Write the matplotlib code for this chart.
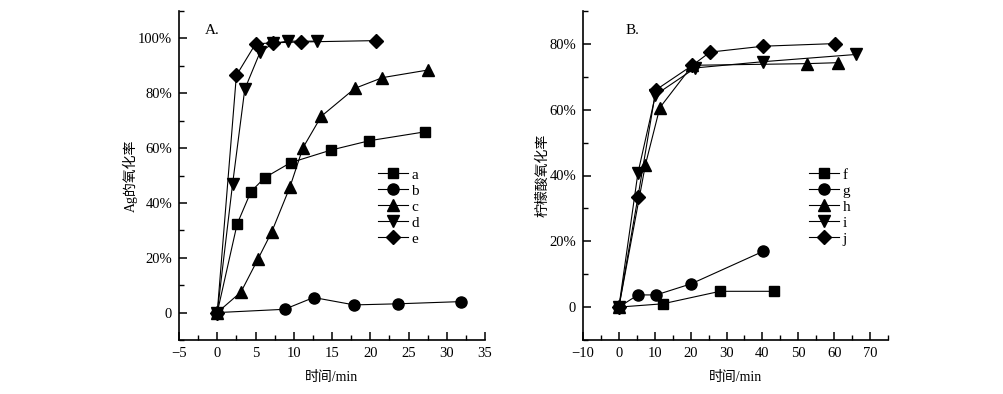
import matplotlib
matplotlib.use("Agg")
import matplotlib.pyplot as plt
from matplotlib.ticker import MultipleLocator, FuncFormatter

plt.rcParams['font.family'] = ['Liberation Serif', 'Noto Sans CJK SC']
plt.rcParams['axes.unicode_minus'] = True

# ---- panel A: Ag oxidation ----
a_x = [0, 2.6, 4.4, 6.2, 9.6, 14.9, 19.9, 27.1]
a_y = [0, 32.3, 44.1, 49.2, 54.7, 59.3, 62.7, 65.9]
b_x = [0, 8.8, 12.6, 17.9, 23.6, 31.8]
b_y = [0, 1.2, 5.5, 2.8, 3.2, 4.0]
c_x = [0, 3.1, 5.3, 7.1, 9.5, 11.2, 13.6, 18.0, 21.6, 27.6]
c_y = [0, 7.5, 19.4, 29.3, 45.8, 60.1, 71.6, 81.8, 85.7, 88.5]
d_x = [0, 2.0, 3.6, 5.6, 7.3, 9.2, 13.0]
d_y = [0, 46.8, 81.5, 95.0, 98.2, 99.0, 99.0]
e_x = [0, 2.5, 5.0, 7.3, 10.9, 20.7]
e_y = [0, 86.5, 98.0, 98.4, 98.7, 99.2]

# ---- panel B: citric acid oxidation ----
f_x = [0, 12.2, 28.2, 43.3]
f_y = [0, 1.0, 4.8, 4.8]
g_x = [0, 5.3, 10.4, 20.2, 40.3]
g_y = [0, 3.7, 3.7, 7.1, 17.0]
h_x = [0, 7.4, 11.4, 20.5, 52.4, 61.2]
h_y = [0, 43.3, 60.6, 73.5, 74.0, 74.3]
i_x = [0, 5.3, 10.2, 21.3, 40.3, 66.2]
i_y = [0, 40.7, 64.5, 72.7, 74.6, 76.8]
j_x = [0, 5.3, 10.3, 20.5, 25.4, 40.2, 60.3]
j_y = [0, 33.4, 66.0, 73.5, 77.5, 79.3, 80.1]

markers = ['s', 'o', '^', 'v', 'D']
msizes = [7.5, 8, 8.5, 8.5, 7.5]

fig = plt.figure(figsize=(10.04, 3.94), dpi=100)
axA = fig.add_axes([179/1004, 54/394, 306/1004, 329/394])
axB = fig.add_axes([583/1004, 54/394, 305/1004, 329/394])


def pct(v, pos):
    return "0" if abs(v) < 1e-9 else f"{v:.0f}%"


def style(ax):
    for s in ['top', 'right']:
        ax.spines[s].set_visible(False)
    for s in ['left', 'bottom']:
        ax.spines[s].set_linewidth(1.2)
    ax.tick_params(which='major', direction='in', length=6, width=1.1,
                   labelsize=10.5, pad=5)
    ax.tick_params(which='minor', direction='in', length=3.5, width=1.0)
    ax.yaxis.set_major_locator(MultipleLocator(20))
    ax.yaxis.set_minor_locator(MultipleLocator(10))
    ax.yaxis.set_major_formatter(FuncFormatter(pct))


seriesA = [(a_x, a_y, 'a'), (b_x, b_y, 'b'), (c_x, c_y, 'c'),
           (d_x, d_y, 'd'), (e_x, e_y, 'e')]
for (x, y, lab), m, ms in zip(seriesA, markers, msizes):
    axA.plot(x, y, color='black', lw=0.8, marker=m, ms=ms, label=lab)
axA.set_xlim(-5, 35)
axA.set_ylim(-10, 110)
axA.xaxis.set_major_locator(MultipleLocator(5))
axA.xaxis.set_minor_locator(MultipleLocator(2.5))
style(axA)
axA.set_xlabel("时间/min", fontsize=10, labelpad=8)
axA.set_ylabel("Ag的氧化率", fontsize=10, labelpad=0)
axA.text(0.085, 0.96, "A.", transform=axA.transAxes, fontsize=11, va='top')
axA.legend(loc='upper left', bbox_to_anchor=(0.615, 0.555), frameon=False,
           fontsize=11, handlelength=2.0, labelspacing=0.15,
           handletextpad=0.2, borderpad=0.2)

seriesB = [(f_x, f_y, 'f'), (g_x, g_y, 'g'), (h_x, h_y, 'h'),
           (i_x, i_y, 'i'), (j_x, j_y, 'j')]
for (x, y, lab), m, ms in zip(seriesB, markers, msizes):
    axB.plot(x, y, color='black', lw=0.8, marker=m, ms=ms, label=lab)
axB.set_xlim(-10, 75)
axB.set_ylim(-10, 90)
axB.xaxis.set_major_locator(MultipleLocator(10))
axB.xaxis.set_minor_locator(MultipleLocator(5))
style(axB)
axB.set_xlabel("时间/min", fontsize=10, labelpad=8)
axB.set_ylabel("柠檬酸氧化率", fontsize=10, labelpad=0)
axB.text(0.14, 0.96, "B.", transform=axB.transAxes, fontsize=11, va='top')
axB.legend(loc='upper left', bbox_to_anchor=(0.705, 0.555), frameon=False,
           fontsize=11, handlelength=2.0, labelspacing=0.15,
           handletextpad=0.2, borderpad=0.2)

fig.savefig("out.png", dpi=100)
